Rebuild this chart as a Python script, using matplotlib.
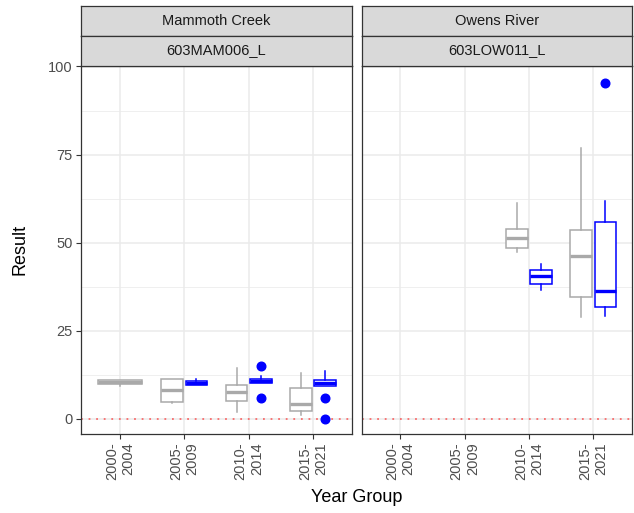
import matplotlib
matplotlib.use("Agg")
import matplotlib.pyplot as plt

plt.rcParams['font.family'] = ['Liberation Sans', 'DejaVu Sans']

# ---------------- data ----------------
year_groups = ["2000-\n2004", "2005-\n2009", "2010-\n2014", "2015-\n2021"]
waterbodies = ["Mammoth Creek", "Owens River"]
stations = ["603MAM006_L", "603LOW011_L"]

# Mammoth Creek - grey series
mam_grey_cat = [0, 1, 2, 3]
mam_grey_whislo = [9.3, 4.4, 1.9, 1.0]
mam_grey_q1 = [9.9, 4.8, 5.1, 2.3]
mam_grey_med = [10.6, 8.1, 7.7, 4.2]
mam_grey_q3 = [11.2, 11.3, 9.6, 8.7]
mam_grey_whishi = [11.2, 11.3, 14.4, 13.0]
mam_grey_fliers = [[], [], [], []]

# Mammoth Creek - blue series
mam_blue_cat = [1, 2, 3]
mam_blue_whislo = [9.6, 10.2, 9.5]
mam_blue_q1 = [9.6, 10.2, 9.5]
mam_blue_med = [10.2, 10.8, 10.3]
mam_blue_q3 = [10.9, 11.3, 11.2]
mam_blue_whishi = [11.4, 12.1, 13.6]
mam_blue_fliers = [[], [15.0, 5.9], [5.9, 0.0]]

# Owens River - grey series
own_grey_cat = [2, 3]
own_grey_whislo = [47.4, 28.8]
own_grey_q1 = [48.5, 34.5]
own_grey_med = [51.4, 46.1]
own_grey_q3 = [53.8, 53.5]
own_grey_whishi = [61.4, 76.8]
own_grey_fliers = [[], []]

# Owens River - blue series
own_blue_cat = [2, 3]
own_blue_whislo = [36.7, 29.1]
own_blue_q1 = [38.4, 31.7]
own_blue_med = [40.5, 36.2]
own_blue_q3 = [42.4, 56.0]
own_blue_whishi = [44.1, 61.8]
own_blue_fliers = [[], [95.4]]

y_ticks = [0, 25, 50, 75, 100]

# ---------------- layout ----------------
W, H = 634, 513
fig = plt.figure(figsize=(W / 100, H / 100), dpi=100)


def rect(x0, x1, y0, y1):
    return [x0 / W, 1 - y1 / H, (x1 - x0) / W, (y1 - y0) / H]


panel_x = [(81.3, 351.7), (361.7, 632.0)]
panel_y = (65.5, 434.3)
strip_rows = [(6.0, 35.5), (35.5, 65.5)]

GREY = "#A9A9A9"
BLUE = "#0000FF"
BORDER = "#333333"
TXT = "#4D4D4D"


def make_stats(cats, lo, q1, med, q3, hi, fl):
    out = []
    for i in range(len(cats)):
        out.append(dict(med=med[i], q1=q1[i], q3=q3[i], whislo=lo[i],
                        whishi=hi[i], fliers=fl[i]))
    return out


def draw_series(ax, cats, stats, color, offsets, widths):
    pos = [c + 1 + o for c, o in zip(cats, offsets)]
    ax.bxp(stats, positions=pos, widths=widths, patch_artist=True,
           showcaps=False, manage_ticks=False,
           boxprops=dict(facecolor="white", edgecolor=color, linewidth=1.1),
           whiskerprops=dict(color=color, linewidth=1.1),
           medianprops=dict(color=color, linewidth=2.4, solid_capstyle="butt"),
           flierprops=dict(marker="o", markerfacecolor=color,
                           markeredgecolor=color, markersize=6.2,
                           linestyle="none"))


series = [
    [  # Mammoth Creek
        (mam_grey_cat, make_stats(mam_grey_cat, mam_grey_whislo, mam_grey_q1, mam_grey_med,
                                  mam_grey_q3, mam_grey_whishi, mam_grey_fliers), GREY,
         [0.0, -0.1875, -0.1875, -0.1875], [0.675, 0.3375, 0.3375, 0.3375]),
        (mam_blue_cat, make_stats(mam_blue_cat, mam_blue_whislo, mam_blue_q1, mam_blue_med,
                                  mam_blue_q3, mam_blue_whishi, mam_blue_fliers), BLUE,
         [0.1875, 0.1875, 0.1875], [0.3375, 0.3375, 0.3375]),
    ],
    [  # Owens River
        (own_grey_cat, make_stats(own_grey_cat, own_grey_whislo, own_grey_q1, own_grey_med,
                                  own_grey_q3, own_grey_whishi, own_grey_fliers), GREY,
         [-0.1875, -0.1875], [0.3375, 0.3375]),
        (own_blue_cat, make_stats(own_blue_cat, own_blue_whislo, own_blue_q1, own_blue_med,
                                  own_blue_q3, own_blue_whishi, own_blue_fliers), BLUE,
         [0.1875, 0.1875], [0.3375, 0.3375]),
    ],
]

ymin = -(panel_y[1] - 419.0) / 3.525
ymax = (419.0 - panel_y[0]) / 3.525

for p in range(2):
    x0, x1 = panel_x[p]
    ax = fig.add_axes(rect(x0, x1, panel_y[0], panel_y[1]))
    ax.set_xlim(0.4, 4.6)
    ax.set_ylim(ymin, ymax)
    ax.set_facecolor("white")
    ax.set_yticks(y_ticks)
    ax.set_yticks([12.5, 37.5, 62.5, 87.5], minor=True)
    ax.set_xticks(range(1, len(year_groups) + 1))
    ax.set_xticklabels(year_groups, rotation=90, ha="center", va="top",
                       multialignment="right", fontsize=10.5, color=TXT)
    ax.grid(which="major", color="#EBEBEB", linewidth=1.1, zorder=0)
    ax.grid(which="minor", axis="y", color="#EBEBEB", linewidth=0.55, zorder=0)
    ax.set_axisbelow(True)
    ax.tick_params(axis="both", which="major", length=3.5, width=0.8, color=BORDER,
                   labelsize=10.5, labelcolor=TXT, pad=2.5)
    ax.tick_params(axis="y", which="minor", length=0)
    if p == 1:
        ax.tick_params(axis="y", which="major", length=0, labelleft=False)
    for s in ax.spines.values():
        s.set_color(BORDER)
        s.set_linewidth(0.9)

    ax.axhline(0, color="#FF0000", alpha=0.55, linewidth=1.3,
               linestyle=(0, (1, 3.2)), zorder=1)

    for cats, stats, color, offs, wid in series[p]:
        draw_series(ax, cats, stats, color, offs, wid)

    # strips
    labels = [waterbodies[p], stations[p]]
    for r, (sy0, sy1) in enumerate(strip_rows):
        sax = fig.add_axes(rect(x0, x1, sy0, sy1))
        sax.set_facecolor("#D9D9D9")
        sax.set_xticks([])
        sax.set_yticks([])
        for s in sax.spines.values():
            s.set_color(BORDER)
            s.set_linewidth(0.9)
        sax.text(0.5, 0.5, labels[r], ha="center", va="center",
                 fontsize=10.5, color="#1A1A1A", transform=sax.transAxes)

fig.text((panel_x[0][0] + panel_x[1][1]) / 2 / W, 1 - 497 / H, "Year Group",
         ha="center", va="center", fontsize=13, color="black")
fig.text(20 / W, 1 - (panel_y[0] + panel_y[1]) / 2 / H, "Result",
         ha="center", va="center", rotation=90, fontsize=13, color="black")

fig.savefig("out.png", dpi=100, facecolor="white")
